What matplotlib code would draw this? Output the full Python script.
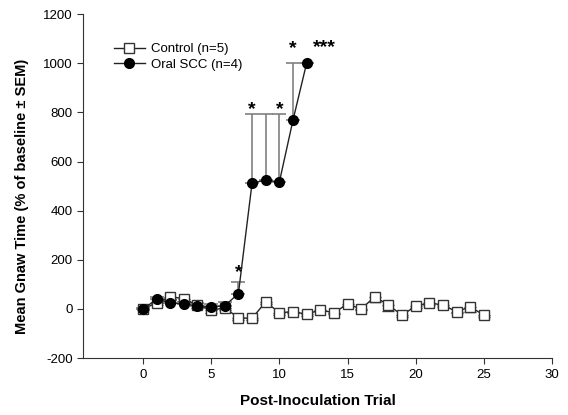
import matplotlib.pyplot as plt
import numpy as np

plt.rcParams['font.family'] = ['Liberation Sans', 'DejaVu Sans']
plt.rcParams['axes.unicode_minus'] = False

# Control group (open squares)
ctrl_trial = np.arange(0, 26)
ctrl_mean = [0, 25, 50, 42, 15, -5, 5, -36, -38, 29, -15, -11, -21, -4, -15,
             20, 0, 50, 16, -25, 12, 25, 16, -11, 9, -25]
ctrl_err = [5, 10, 8, 8, 10, 12, 10, 8, 8, 10, 8, 6, 6, 6, 6,
            8, 6, 20, 25, 6, 8, 10, 8, 6, 20, 6]

# Oral SCC group (filled circles)
scc_trial = np.arange(0, 13)
scc_mean = [0, 39, 25, 20, 13, 9, 13, 63, 512, 525, 516, 768, 1000]
scc_err = [5, 10, 10, 10, 10, 10, 15, 47, 283, 270, 279, 232, 0]

# significance markers
star_x = [7, 8, 10, 11, 13.3]
star_y = [150, 810, 810, 1060, 1065]
star_txt = ['*', '*', '*', '*', '***']

fig = plt.figure(figsize=(5.68, 4.15), dpi=100)
ax = fig.add_axes([0.146, 0.137, 0.826, 0.829])

ax.errorbar(scc_trial, scc_mean, yerr=[np.zeros(len(scc_err)), scc_err],
            fmt='none', ecolor='#808080', elinewidth=1.2, capsize=5, capthick=1.2, zorder=1)
ax.errorbar(ctrl_trial, ctrl_mean, yerr=[ctrl_err, np.zeros(len(ctrl_err))],
            fmt='none', ecolor='#333333', elinewidth=1, capsize=4, capthick=1, zorder=1)

ax.plot(ctrl_trial, ctrl_mean, color='#222222', lw=1, marker='s', ms=6.5,
        mfc='white', mec='#333333', mew=1, label='Control (n=5)', zorder=3)
ax.plot(scc_trial, scc_mean, color='#222222', lw=1, marker='o', ms=7,
        mfc='black', mec='black', label='Oral SCC (n=4)', zorder=4)

for sx, sy, st in zip(star_x, star_y, star_txt):
    ax.text(sx, sy, st, ha='center', va='center', fontsize=14, fontweight='bold')

ax.set_xlim(-4.4, 30)
ax.set_ylim(-200, 1200)
ax.set_xticks(np.arange(0, 31, 5))
ax.set_yticks(np.arange(-200, 1201, 200))
ax.tick_params(labelsize=9.5, direction='out', length=4, color='#333333')
for s in ['top', 'right']:
    ax.spines[s].set_visible(False)
for s in ['left', 'bottom']:
    ax.spines[s].set_color('#333333')

ax.set_xlabel('Post-Inoculation Trial', fontsize=11, fontweight='bold', labelpad=10)
ax.set_ylabel('Mean Gnaw Time (% of baseline \u00b1 SEM)', fontsize=10.5,
              fontweight='bold', labelpad=8)
ax.yaxis.set_label_coords(-0.115, 0.47)

ax.legend(loc='upper left', bbox_to_anchor=(0.04, 0.95), frameon=False, fontsize=9.5,
          handlelength=2.4, handletextpad=0.4, labelspacing=0.25)

fig.savefig('out.png', dpi=100)
